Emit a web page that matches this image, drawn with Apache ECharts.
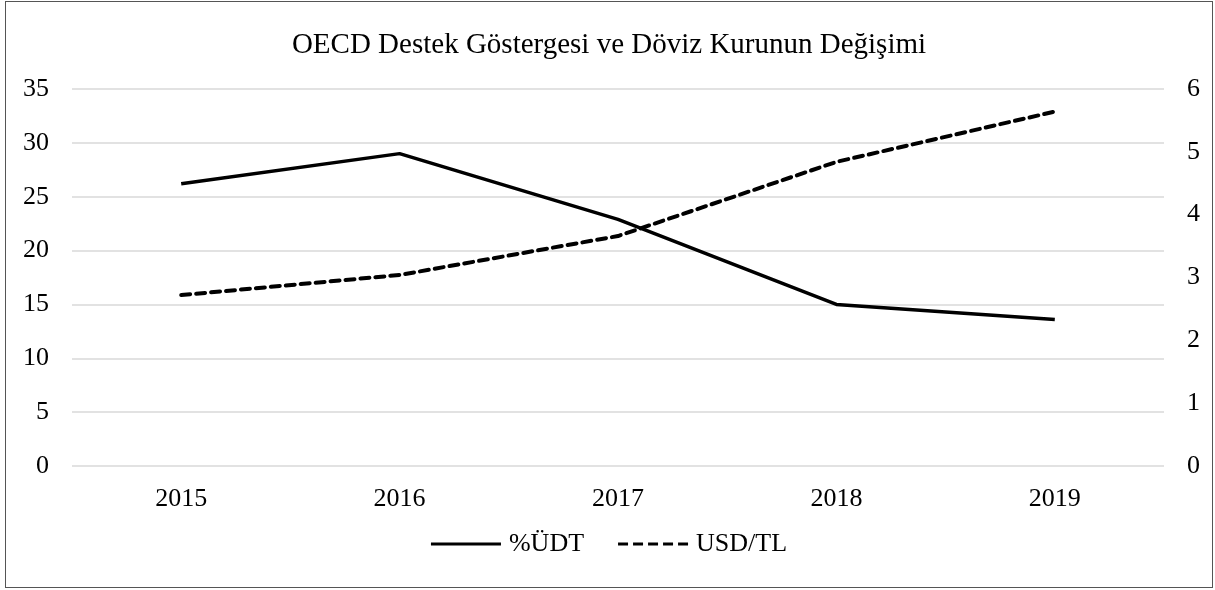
<!DOCTYPE html>
<html>
<head>
	<meta charset="UTF-8">
	<title>OECD Destek Göstergesi</title>
	<script src="https://cdn.jsdelivr.net/npm/echarts@6/dist/echarts.min.js"></script>
	<style type="text/css">
		html, body { margin: 0; padding: 0; background: #fff; }
		#main {
			position: absolute;
			left: 5px;
			top: 1px;
			width: 1206px;
			height: 585px;
			border: 1px solid #555;
		}
	</style>
</head>
<body>
	<div id="main"></div>
	<script type="text/javascript">
		// veriler
		var years = ['2015', '2016', '2017', '2018', '2019'];
		var udt = [26.2, 29.0, 22.9, 15.0, 13.6];
		var usdtl = [2.72, 3.04, 3.66, 4.84, 5.64];

		var font = 'Liberation Serif, Times New Roman, serif';
		var myChart = echarts.init(document.getElementById('main'));

		var dashIcon = 'path://M0,0L10,0L10,3L0,3Z M15,0L25,0L25,3L15,3Z M30,0L40,0L40,3L30,3Z M45,0L55,0L55,3L45,3Z M60,0L70,0L70,3L60,3Z';

		var option = {
			animation: false,
			title: {
				text: 'OECD Destek Göstergesi ve Döviz Kurunun Değişimi',
				left: 'center',
				top: 24,
				textStyle: { fontFamily: font, fontSize: 29, fontWeight: 'normal', color: '#000' }
			},
			legend: {
				bottom: 25,
				left: 'center',
				itemWidth: 70,
				itemHeight: 3.5,
				itemGap: 34,
				textStyle: { fontFamily: font, fontSize: 26, color: '#000', padding: [0, 0, 0, 3] },
				data: [
					{ name: '%ÜDT', icon: 'path://M0,0L70,0L70,3L0,3Z' },
					{ name: 'USD/TL', icon: dashIcon }
				]
			},
			grid: { left: 66, right: 48, top: 87, bottom: 121 },
			xAxis: {
				type: 'category',
				data: years,
				axisLine: { show: false },
				axisTick: { show: false },
				axisLabel: { fontFamily: font, fontSize: 26, color: '#000', margin: 20 }
			},
			yAxis: [{
				type: 'value',
				min: 0, max: 35, interval: 5,
				axisLine: { show: false },
				axisTick: { show: false },
				splitLine: { lineStyle: { color: '#d9d9d9', width: 1.5 } },
				axisLabel: { fontFamily: font, fontSize: 26, color: '#000', margin: 23 }
			}, {
				type: 'value',
				min: 0, max: 6, interval: 1,
				axisLine: { show: false },
				axisTick: { show: false },
				splitLine: { show: false },
				axisLabel: { fontFamily: font, fontSize: 26, color: '#000', margin: 23 }
			}],
			series: [{
				name: '%ÜDT',
				type: 'line',
				data: udt,
				symbol: 'none',
				itemStyle: { color: '#000' },
				lineStyle: { color: '#000', width: 3.5 }
			}, {
				name: 'USD/TL',
				type: 'line',
				yAxisIndex: 1,
				data: usdtl,
				symbol: 'none',
				itemStyle: { color: '#000' },
				lineStyle: { color: '#000', width: 4, type: [9, 6], cap: 'round' }
			}]
		};
		myChart.setOption(option);
	</script>
</body>
</html>
